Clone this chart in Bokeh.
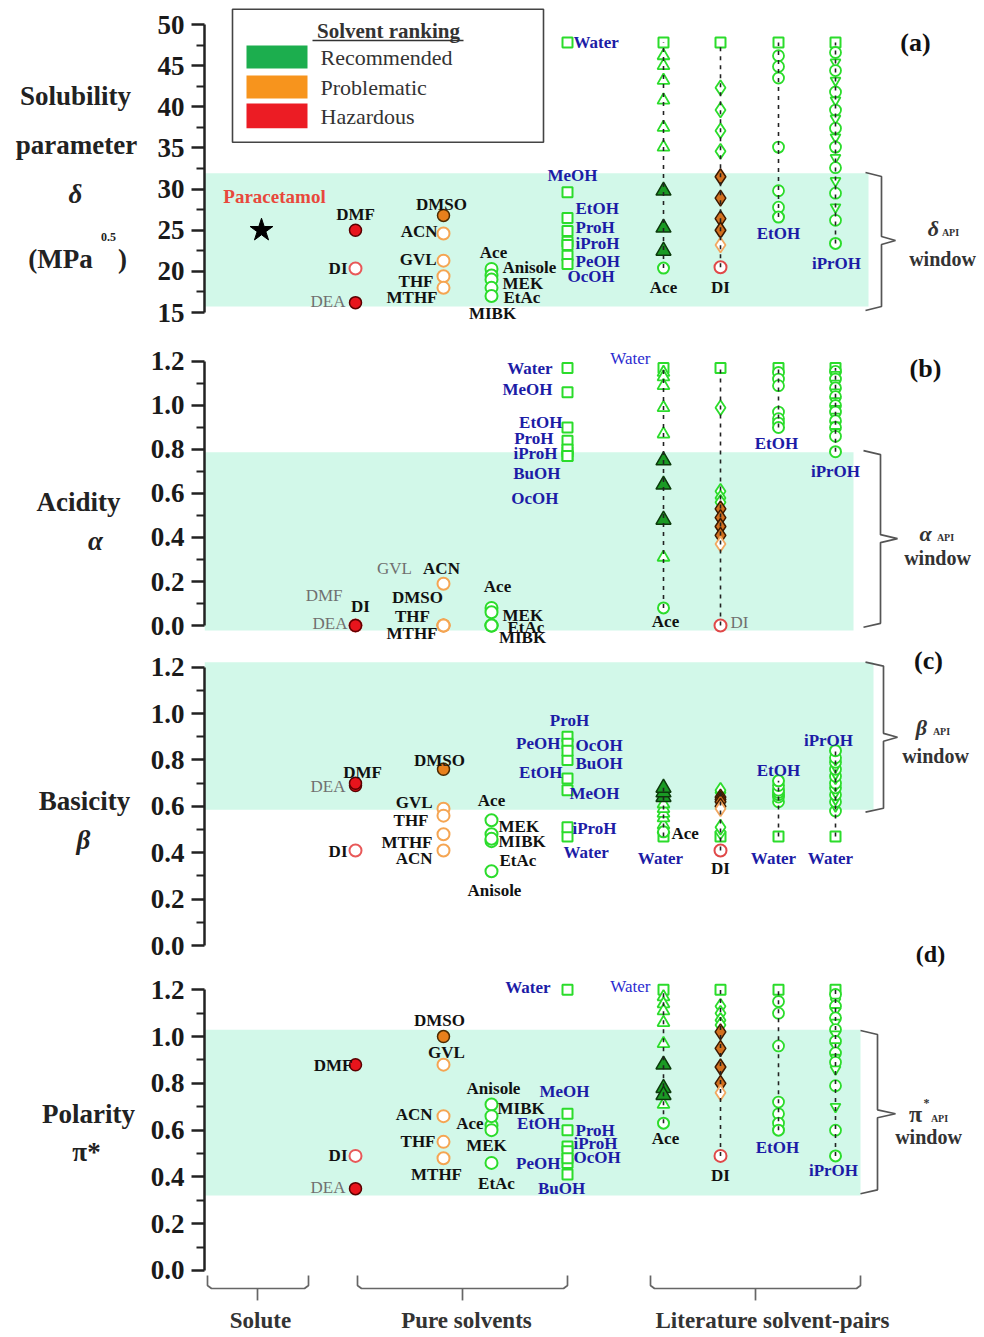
from bokeh.plotting import figure
from bokeh.layouts import column, row
from bokeh.models import Range1d, FixedTicker, PrintfTickFormatter, ColumnDataSource
from bokeh.embed import file_html
from bokeh.resources import INLINE
from bokeh.core.properties import value

# ======================= DATA =======================
ranking_categories = ["Recommended", "Problematic", "Hazardous"]

solute = ["Paracetamol"]
solute_delta = [25.0]

pure_solvents = ["DMF", "DI", "DEA", "DMSO", "ACN", "GVL", "THF", "MTHF",
                 "Ace", "Anisole", "MEK", "EtAc", "MIBK",
                 "Water", "MeOH", "EtOH", "PrOH", "iPrOH", "BuOH", "PeOH", "OcOH"]
pure_ranking = ["Hazardous"] * 3 + ["Problematic"] * 5 + ["Recommended"] * 13
pure_group = ["G1"] * 3 + ["G2"] * 5 + ["G3"] * 5 + ["G4"] * 8
pure_filled = ["DMF", "DEA", "DMSO"]

delta_pure = [25.0, 20.35, 16.2, 26.8, 24.6, 21.3, 19.4, 18.0,
              20.3, 19.5, 19.0, 18.0, 17.0,
              47.8, 29.6, 26.5, 24.9, 23.6, 23.2, 21.9, 20.9]
alpha_pure = [0.0, 0.0, 0.0, 0.0, 0.19, 0.0, 0.0, 0.0,
              0.08, 0.0, 0.06, 0.0, 0.0,
              1.17, 1.06, 0.90, 0.84, 0.77, 0.79, 0.80, 0.77]
beta_pure = [0.69, 0.41, 0.70, 0.76, 0.41, 0.59, 0.56, 0.48,
             0.54, 0.32, 0.48, 0.45, 0.46,
             0.47, 0.67, 0.72, 0.90, 0.51, 0.80, 0.87, 0.84]
pi_pure = [0.88, 0.49, 0.35, 1.00, 0.66, 0.88, 0.55, 0.48,
           0.62, 0.71, 0.60, 0.46, 0.66,
           1.20, 0.67, 0.60, 0.53, 0.51, 0.41, 0.46, 0.48]

# API windows (low, high)
window_delta = [15.73, 31.93]
window_alpha = [-0.023, 0.788]
window_beta = [0.585, 1.222]
window_pi = [0.321, 1.029]

# literature solvent pairs (water ... mixtures ... co-solvent)
pairs = ["Water/Ace", "Water/DI", "Water/EtOH", "Water/iPrOH"]

ace_kind = ["W"] + ["tri"] * 6 + ["tri_ok"] * 3 + ["end"]
ace_delta = [47.8, 46.2, 45.0, 43.2, 40.8, 37.5, 35.1, 29.8, 25.3, 22.5, 20.4]
ace_alpha = [1.17, 1.15, 1.13, 1.09, 0.99, 0.87, 0.31, 0.75, 0.64, 0.48, 0.08]
ace_beta = [0.47, 0.50, 0.52, 0.55, 0.57, 0.59, 0.61, 0.64, 0.66, 0.68, 0.49]
ace_pi = [1.20, 1.17, 1.14, 1.11, 1.06, 0.97, 0.71, 0.88, 0.78, 0.75, 0.63]

di_kind = ["W"] + ["dia"] * 4 + ["dia_ok"] * 4 + ["dia_p"] + ["end_red"]
di_delta = [47.8, 42.3, 39.6, 37.1, 34.6, 31.5, 28.9, 26.4, 25.0, 23.2, 20.5]
di_alpha = [1.17, 0.99, 0.61, 0.58, 0.56, 0.53, 0.49, 0.45, 0.41, 0.37, 0.00]
di_beta = [0.47, 0.49, 0.51, 0.66, 0.67, 0.64, 0.63, 0.62, 0.60, 0.59, 0.41]
di_pi = [1.20, 1.13, 1.10, 1.07, 1.05, 1.02, 0.95, 0.87, 0.80, 0.76, 0.49]

etoh_kind = ["W"] + ["circ"] * 6 + ["end"]
etoh_delta = [47.8, 46.2, 44.9, 43.5, 35.1, 29.8, 27.8, 26.6]
etoh_alpha = [1.17, 1.15, 1.12, 1.09, 0.97, 0.94, 0.92, 0.90]
etoh_beta = [0.47, 0.62, 0.64, 0.65, 0.66, 0.67, 0.69, 0.71]
etoh_pi = [1.20, 1.15, 1.10, 0.96, 0.72, 0.67, 0.63, 0.60]

ipr_kind = ["W"] + ["circ", "dtri"] * 8 + ["circ"] + ["end"]
ipr_delta = [47.8, 46.6, 45.4, 44.4, 43.2, 41.8, 40.8, 39.6, 38.6, 37.4,
             36.3, 35.1, 33.8, 32.6, 31.0, 29.5, 27.8, 26.2, 23.4]
ipr_alpha = [1.17, 1.155, 1.14, 1.12, 1.10, 1.08, 1.06, 1.04, 1.02, 1.00,
             0.985, 0.97, 0.95, 0.93, 0.91, 0.90, 0.88, 0.86, 0.79]
ipr_beta = [0.47, 0.58, 0.60, 0.62, 0.63, 0.65, 0.66, 0.68, 0.69, 0.70,
            0.72, 0.73, 0.74, 0.76, 0.77, 0.79, 0.80, 0.81, 0.84]
ipr_pi = [1.20, 1.18, 1.15, 1.13, 1.11, 1.08, 1.06, 1.03, 1.01, 0.98,
          0.96, 0.93, 0.91, 0.89, 0.86, 0.79, 0.70, 0.60, 0.49]

# ======================= LAYOUT / STYLE =======================
SERIF = "Liberation Serif"
GREEN = "#2bdc2b"
BLUE = "#1c1ca6"
BLUE_N = "#2b2bd0"
BLACK = "#111111"
GRAY = "#707070"
BAND = "#d2f8e9"
rank_colors = {"Recommended": "#1cae4e", "Problematic": "#f7941d", "Hazardous": "#ec1c24"}

TITLE_W = 140
TOTAL_W = 980
X_LEFT, X_RIGHT = 204, 980

column_x = {"Solute": 261, "G1": 355, "G2": 443, "G3": 491, "G4": 567,
            "Water/Ace": 663, "Water/DI": 720, "Water/EtOH": 778, "Water/iPrOH": 835}

pair_data = {
    "Water/Ace": (ace_kind, {"a": ace_delta, "b": ace_alpha, "c": ace_beta, "d": ace_pi}),
    "Water/DI": (di_kind, {"a": di_delta, "b": di_alpha, "c": di_beta, "d": di_pi}),
    "Water/EtOH": (etoh_kind, {"a": etoh_delta, "b": etoh_alpha, "c": etoh_beta, "d": etoh_pi}),
    "Water/iPrOH": (ipr_kind, {"a": ipr_delta, "b": ipr_alpha, "c": ipr_beta, "d": ipr_pi}),
}
pure_values = {"a": delta_pure, "b": alpha_pure, "c": beta_pure, "d": pi_pure}
windows = {"a": window_delta, "b": window_alpha, "c": window_beta, "d": window_pi}

kind_style = {
    "W": ("square", 10, "white", GREEN, 2.0),
    "tri": ("triangle", 12, "white", GREEN, 1.8),
    "tri_ok": ("triangle", 15, "#1a9a24", "#0c3a0c", 1.5),
    "end": ("circle", 11, "white", GREEN, 2.0),
    "circ": ("circle", 11, "white", GREEN, 1.8),
    "dtri": ("inverted_triangle", 10, "white", GREEN, 1.8),
    "dia": ("diamond", 15, "white", GREEN, 1.8),
    "dia_ok": ("diamond", 16, "#d2701e", "#3d1a00", 1.5),
    "dia_p": ("diamond", 15, "white", "#f2a860", 1.8),
    "end_red": ("circle", 12, "white", "#e04848", 2.0),
}


def pure_style(name, rank, group):
    filled = name in pure_filled
    if rank == "Hazardous":
        return ("circle", 12, "#e8141c", "#5a0000", 1.5) if filled else ("circle", 12, "white", "#e85858", 2.0)
    if rank == "Problematic":
        return ("circle", 12, "#e8801c", "#4a2a00", 1.5) if filled else ("circle", 12, "white", "#f5a552", 2.0)
    if group == "G4":
        return ("square", 10, "white", GREEN, 2.0)
    return ("circle", 12, "white", GREEN, 2.0)


lab_style = {"k": (BLACK, "bold"), "b": (BLUE, "bold"), "g": (GRAY, "normal"), "bn": (BLUE_N, "normal")}

pure_labels = {
    "a": [("DMF", "DMF", 0, -16, "center", "k"), ("DI", "DI", -8, 0, "right", "k"),
          ("DEA", "DEA", -10, -1, "right", "g"), ("DMSO", "DMSO", -2, -11, "center", "k"),
          ("ACN", "ACN", -6, -2, "right", "k"), ("GVL", "GVL", -7, -1, "right", "k"),
          ("THF", "THF", -10, 5, "right", "k"), ("MTHF", "MTHF", -6, 10, "right", "k"),
          ("Ace", "Ace", 2, -16, "center", "k"), ("Anisole", "Anisole", 11, -8, "left", "k"),
          ("MEK", "MEK", 11, 4, "left", "k"), ("EtAc", "EtAc", 12, 10, "left", "k"),
          ("MIBK", "MIBK", 1, 17, "center", "k"), ("Water", "Water", 6, 0, "left", "b"),
          ("MeOH", "MeOH", 5, -17, "center", "b"), ("EtOH", "EtOH", 8, -9, "left", "b"),
          ("PrOH", "ProH", 8, -4, "left", "b"), ("iPrOH", "iProH", 8, 2, "left", "b"),
          ("PeOH", "PeOH", 8, 6, "left", "b"), ("OcOH", "OcOH", 0, 13, "left", "b")],
    "b": [("DEA", "DEA", -8, -2, "right", "g"), ("DMF", "DMF", -13, -30, "right", "g"),
          ("DI", "DI", 5, -19, "center", "k"), ("DMSO", "DMSO", -26, -28, "center", "k"),
          ("ACN", "ACN", -2, -15, "center", "k"), ("GVL", "GVL", -49, -57, "center", "g"),
          ("THF", "THF", -31, -9, "center", "k"), ("MTHF", "MTHF", -6, 8, "right", "k"),
          ("Ace", "Ace", 6, -21, "center", "k"), ("MEK", "MEK", 11, 3, "left", "k"),
          ("EtAc", "EtAc", 16, 2, "left", "k"), ("MIBK", "MIBK", 31, 12, "center", "k"),
          ("Water", "Water", -15, 0, "right", "b"), ("MeOH", "MeOH", -15, -3, "right", "b"),
          ("EtOH", "EtOH", -5, -5, "right", "b"), ("PrOH", "ProH", -14, -2, "right", "b"),
          ("iPrOH", "iProH", -10, -3, "right", "b"), ("BuOH", "BuOH", -7, 22, "right", "b"),
          ("OcOH", "OcOH", -9, 42, "right", "b")],
    "c": [("DMF", "DMF", 7, -13, "center", "k"), ("DEA", "DEA", -10, 3, "right", "g"),
          ("DI", "DI", -8, 1, "right", "k"), ("DMSO", "DMSO", -4, -9, "center", "k"),
          ("GVL", "GVL", -11, -6, "right", "k"), ("THF", "THF", -15, 5, "right", "k"),
          ("MTHF", "MTHF", -11, 8, "right", "k"), ("ACN", "ACN", -11, 8, "right", "k"),
          ("Ace", "Ace", 0, -20, "center", "k"), ("MEK", "MEK", 7, -8, "left", "k"),
          ("MIBK", "MIBK", 7, 3, "left", "k"), ("EtAc", "EtAc", 8, 19, "left", "k"),
          ("Anisole", "Anisole", 3, 19, "center", "k"), ("PrOH", "ProH", 2, -16, "center", "b"),
          ("PeOH", "PeOH", -7, 0, "right", "b"), ("OcOH", "OcOH", 8, -5, "left", "b"),
          ("BuOH", "BuOH", 8, 4, "left", "b"), ("EtOH", "EtOH", -5, -6, "right", "b"),
          ("MeOH", "MeOH", 2, 3, "left", "b"), ("iPrOH", "iProH", 5, 1, "left", "b"),
          ("Water", "Water", -4, 16, "left", "b")],
    "d": [("DMF", "DMF", -3, 1, "right", "k"), ("DI", "DI", -8, 0, "right", "k"),
          ("DEA", "DEA", -10, -1, "right", "g"), ("DMSO", "DMSO", -4, -16, "center", "k"),
          ("GVL", "GVL", 3, -12, "center", "k"), ("ACN", "ACN", -11, -2, "right", "k"),
          ("THF", "THF", -8, 0, "right", "k"), ("MTHF", "MTHF", -7, 16, "center", "k"),
          ("Anisole", "Anisole", 2, -16, "center", "k"), ("MIBK", "MIBK", 6, -8, "left", "k"),
          ("Ace", "Ace", -8, -2, "right", "k"), ("MEK", "MEK", -5, 15, "center", "k"),
          ("EtAc", "EtAc", 5, 21, "center", "k"), ("Water", "Water", -17, -2, "right", "b"),
          ("MeOH", "MeOH", -3, -22, "center", "b"), ("EtOH", "EtOH", -7, -7, "right", "b"),
          ("PrOH", "ProH", 8, -16, "left", "b"), ("iPrOH", "iProH", 6, -8, "left", "b"),
          ("OcOH", "OcOH", 6, -1, "left", "b"), ("PeOH", "PeOH", -7, 1, "right", "b"),
          ("BuOH", "BuOH", -6, 14, "center", "b")],
}

pair_labels = {
    "a": [("Water/Ace", -1, "Ace", 0, 19, "center", "k"), ("Water/DI", -1, "DI", 0, 20, "center", "k"),
          ("Water/EtOH", -1, "EtOH", 0, 16, "center", "b"), ("Water/iPrOH", -1, "iPrOH", 1, 20, "center", "b")],
    "b": [("Water/Ace", 0, "Water", -13, -10, "right", "bn"), ("Water/Ace", -1, "Ace", 2, 14, "center", "k"),
          ("Water/DI", -1, "DI", 10, -3, "left", "g"), ("Water/EtOH", -1, "EtOH", -2, 16, "center", "b"),
          ("Water/iPrOH", -1, "iPrOH", 0, 20, "center", "b")],
    "c": [("Water/Ace", -1, "Ace", 8, 2, "left", "k"), ("Water/Ace", 0, "Water", -3, 22, "center", "b"),
          ("Water/DI", -1, "DI", 0, 18, "center", "k"), ("Water/EtOH", -1, "EtOH", 0, -10, "center", "b"),
          ("Water/EtOH", 0, "Water", -5, 22, "center", "b"), ("Water/iPrOH", -1, "iPrOH", -7, -10, "center", "b"),
          ("Water/iPrOH", 0, "Water", -5, 22, "center", "b")],
    "d": [("Water/Ace", 0, "Water", -13, -3, "right", "bn"), ("Water/Ace", -1, "Ace", 2, 15, "center", "k"),
          ("Water/DI", -1, "DI", 0, 20, "center", "k"), ("Water/EtOH", -1, "EtOH", -1, 17, "center", "b"),
          ("Water/iPrOH", -1, "iPrOH", -2, 15, "center", "b")],
}

panel_cfg = {
    "a": dict(height=330, yr=(12.814, 52.917), ticks=[15, 20, 25, 30, 35, 40, 45, 50],
              minor=[17.5, 22.5, 27.5, 32.5, 37.5, 42.5, 47.5], fmt="%d", bounds=(15, 50),
              band_right=868, br=(865, 881, 895, 32.01, 15.25, 23.75, 0.486)),
    "b": dict(height=316, yr=(-0.09545, 1.3409), br=(863, 880, 897, 0.795, -0.008, 0.395, 0.018),
              band_right=853),
    "c": dict(height=324, yr=(-0.1078, 1.2894), br=(865, 883, 897, 1.222, 0.575, 0.898, 0.017),
              band_right=873),
    "d": dict(height=365, yr=(-0.2779, 1.2826), br=(860, 877, 895, 1.026, 0.328, 0.67, 0.017),
              band_right=860),
}
for k in "bcd":
    panel_cfg[k].update(ticks=[0.0, 0.2, 0.4, 0.6, 0.8, 1.0, 1.2], minor=[0.1, 0.3, 0.5, 0.7, 0.9, 1.1],
                        fmt="%.1f", bounds=(0, 1.2))


def txt(p, x, y, s, size, style="bold", color=BLACK, align="center", dx=0, dy=0, baseline="middle"):
    p.text(x=[x], y=[y], text=[s], x_offset=dx, y_offset=dy, text_align=align, text_baseline=baseline,
           text_font=value(SERIF), text_font_style=style, text_font_size=size, text_color=color)


def make_panel(key):
    cfg = panel_cfg[key]
    yr = Range1d(*cfg["yr"])
    # left strip holding the axis title (horizontal, multi-line)
    t = figure(width=TITLE_W, height=cfg["height"], x_range=Range1d(0, TITLE_W), y_range=yr,
               output_backend="svg", toolbar_location=None, x_axis_location=None, y_axis_location=None,
               min_border_left=0, min_border_right=0, min_border_top=0, min_border_bottom=0)
    t.outline_line_color = None
    t.grid.visible = False

    p = figure(width=TOTAL_W - TITLE_W, height=cfg["height"], x_range=Range1d(X_LEFT, X_RIGHT), y_range=yr,
               output_backend="svg", toolbar_location=None, x_axis_location=None,
               min_border_left=X_LEFT - TITLE_W, min_border_right=0, min_border_top=0, min_border_bottom=0)
    p.outline_line_color = None
    p.grid.visible = False
    ax = p.yaxis[0]
    ax.ticker = FixedTicker(ticks=cfg["ticks"], minor_ticks=cfg["minor"])
    ax.formatter = PrintfTickFormatter(format=cfg["fmt"])
    ax.bounds = cfg["bounds"]
    ax.axis_line_width = 2.5
    ax.axis_line_color = "#222222"
    ax.major_tick_line_width = 2.5
    ax.major_tick_line_color = "#222222"
    ax.minor_tick_line_width = 2
    ax.minor_tick_line_color = "#222222"
    ax.major_tick_out = 13
    ax.major_tick_in = 0
    ax.minor_tick_out = 8
    ax.minor_tick_in = 0
    ax.major_label_standoff = 7
    ax.major_label_text_font = SERIF
    ax.major_label_text_font_style = "bold"
    ax.major_label_text_font_size = "27px"
    ax.major_label_text_color = "#1a1a1a"

    lo, hi = windows[key]
    p.quad(left=[X_LEFT], right=[cfg["band_right"]], bottom=[lo], top=[hi], fill_color=BAND, line_color=None)

    # right bracket
    x0, x1, x2, top, bot, mid, d = cfg["br"]
    p.line(x=[x0, x1, x1, x2, x1, x1, x0], y=[top, top - d, mid + d, mid, mid - d, bot + d, bot],
           line_color="#555555", line_width=1.7)

    # markers: pure solvents + literature pairs
    vals = pure_values[key]
    src = dict(x=[], y=[], marker=[], size=[], fill=[], line=[], lw=[])
    for name, rank, grp, v in zip(pure_solvents, pure_ranking, pure_group, vals):
        m, s, f, l, w = pure_style(name, rank, grp)
        src["x"].append(column_x[grp]); src["y"].append(v); src["marker"].append(m)
        src["size"].append(s); src["fill"].append(f); src["line"].append(l); src["lw"].append(w)
    for pair in pairs:
        kinds, pv = pair_data[pair]
        for kd, v in zip(kinds, pv[key]):
            m, s, f, l, w = kind_style[kd]
            src["x"].append(column_x[pair]); src["y"].append(v); src["marker"].append(m)
            src["size"].append(s); src["fill"].append(f); src["line"].append(l); src["lw"].append(w)
    p.scatter(x="x", y="y", marker="marker", size="size", fill_color="fill", line_color="line",
              line_width="lw", source=ColumnDataSource(src))
    for pair in pairs:
        kinds, pv = pair_data[pair]
        ys = pv[key]
        p.line(x=[column_x[pair]] * 2, y=[min(ys), max(ys)], line_color="#222222", line_width=1.6,
               line_dash="4 5")

    # data labels
    for name, shown, dx, dy, al, st in pure_labels[key]:
        i = pure_solvents.index(name)
        col, fs = lab_style[st]
        txt(p, column_x[pure_group[i]], vals[i], shown, "17px", fs, col, al, dx, dy)
    for pair, idx, shown, dx, dy, al, st in pair_labels[key]:
        kinds, pv = pair_data[pair]
        col, fs = lab_style[st]
        txt(p, column_x[pair], pv[key][idx], shown, "17px", fs, col, al, dx, dy)
    return t, p


ta, pa = make_panel("a")
tb, pb = make_panel("b")
tc, pc = make_panel("c")
td, pd = make_panel("d")

TITLE_C = "#222222"

# ---- panel a extras ----
pa.quad(left=[232], right=[543], bottom=[35.7], top=[51.85], fill_color="white", line_color="#444444", line_width=1.6)
sw_bottom = [44.65, 41.0, 37.4]
sw_top = [47.45, 43.8, 40.4]
sw_text_y = [45.99, 42.34, 38.82]
pa.quad(left=[246] * 3, right=[307] * 3, bottom=sw_bottom, top=sw_top,
        fill_color=[rank_colors[r] for r in ranking_categories], line_color=None)
for r, yy in zip(ranking_categories, sw_text_y):
    txt(pa, 320, yy, r, "22px", "normal", "#333333", "left")
txt(pa, 388, 49.15, "Solvent ranking", "21px", "bold", "#333333")
pa.line(x=[312, 463], y=[48.06, 48.06], line_color="#333333", line_width=1.4)

pa.scatter(x=[column_x["Solute"]], y=solute_delta, marker="star", size=24, fill_color="black", line_color="black")
txt(pa, column_x["Solute"], solute_delta[0], solute[0], "19px", "bold", "#e8483c", "center", 13, -34)

txt(ta, 75, 41.37, "Solubility", "27px", "bold", TITLE_C)
txt(ta, 76, 35.30, "parameter", "27px", "bold", TITLE_C)
txt(ta, 75, 29.46, "δ", "27px", "bold italic", TITLE_C)
txt(ta, 60, 21.56, "(MPa", "27px", "bold", TITLE_C)
txt(ta, 122, 21.56, ")", "27px", "bold", TITLE_C)
txt(ta, 108, 24.12, "0.5", "12px", "bold", TITLE_C)
txt(pa, 915, 47.81, "(a)", "26px")
txt(pa, 933, 25.21, "δ", "22px", "bold italic", "#333333")
txt(pa, 950, 24.72, "API", "10px", "bold", "#333333")
txt(pa, 942, 21.56, "window", "20px", "bold", "#333333")

# ---- panel b extras ----
txt(tb, 78, 0.5605, "Acidity", "27px", "bold", TITLE_C)
txt(tb, 95, 0.386, "α", "27px", "bold italic", TITLE_C)
txt(pb, 925, 1.168, "(b)", "26px")
txt(pb, 925, 0.418, "α", "22px", "bold italic", "#333333")
txt(pb, 945, 0.40, "API", "10px", "bold", "#333333")
txt(pb, 937, 0.309, "window", "20px", "bold", "#333333")

# ---- panel c extras ----
txt(tc, 84, 0.625, "Basicity", "27px", "bold", TITLE_C)
txt(tc, 83, 0.453, "β", "27px", "bold italic", TITLE_C)
txt(pc, 928, 1.229, "(c)", "26px")
txt(pc, 921, 0.94, "β", "22px", "bold italic", "#333333")
txt(pc, 941, 0.923, "API", "10px", "bold", "#333333")
txt(pc, 935, 0.819, "window", "20px", "bold", "#333333")
txt(pc, 930, -0.037, "(d)", "24px")

# ---- panel d extras ----
txt(td, 88, 0.671, "Polarity", "27px", "bold", TITLE_C)
txt(td, 86, 0.5045, "π*", "27px", "bold", TITLE_C)
txt(pd, 915, 0.671, "π", "24px", "bold", "#333333")
txt(pd, 926, 0.714, "*", "12px", "bold", "#333333")
txt(pd, 939, 0.65, "API", "10px", "bold", "#333333")
txt(pd, 928, 0.569, "window", "20px", "bold", "#333333")

group_brackets = [("Solute", 207, 308, 257, 260), ("Pure solvents", 357, 567, 462, 466),
                  ("Literature solvent-pairs", 650, 860, 755, 772)]
for name, xa, xb, xm, xt in group_brackets:
    pd.line(x=[xa, xa, xa + 4, xb - 4, xb, xb], y=[-0.0214, -0.064, -0.077, -0.077, -0.064, -0.0214],
            line_color="#666666", line_width=1.7)
    pd.line(x=[xm, xm], y=[-0.077, -0.128], line_color="#666666", line_width=1.7)
    txt(pd, xt, -0.2138, name, "23px", "bold", "#333333")

layout = column(row(ta, pa, spacing=0), row(tb, pb, spacing=0), row(tc, pc, spacing=0),
                row(td, pd, spacing=0), spacing=0)
open("out.html", "w").write(file_html(layout, INLINE))
